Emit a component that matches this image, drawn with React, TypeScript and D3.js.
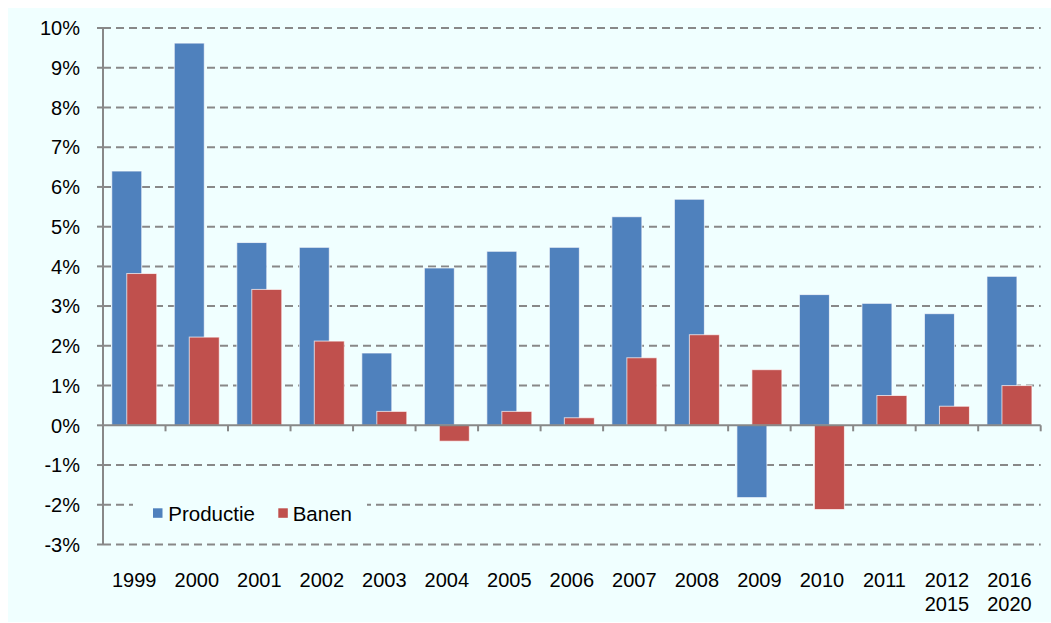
import React from 'react';
import * as d3 from 'd3';

const categories = ['1999', '2000', '2001', '2002', '2003', '2004', '2005', '2006', '2007', '2008', '2009', '2010', '2011', '2012\n2015', '2016\n2020'];
const productie = [6.40, 9.62, 4.60, 4.48, 1.82, 3.96, 4.38, 4.48, 5.25, 5.69, -1.82, 3.29, 3.07, 2.81, 3.75];
const banen = [3.82, 2.22, 3.42, 2.12, 0.35, -0.40, 0.35, 0.19, 1.70, 2.28, 1.40, -2.12, 0.75, 0.48, 1.00];
const yTicks = [-3, -2, -1, 0, 1, 2, 3, 4, 5, 6, 7, 8, 9, 10];

const W = 1051;
const H = 623;
const left = 103;
const right = 1040.7;
const top = 28;
const bottom = 544.5;
const font = 'Liberation Sans, Arial, sans-serif';
const blue = '#4F81BD';
const red = '#C0504D';
const grid = '#888888';
const bg = '#F0FFFF';

const App = () => {
  const x = d3.scaleBand().domain(categories).range([left, right]).padding(0);
  const y = d3.scaleLinear().domain([-3, 10]).range([bottom, top]);
  const barW = 30;

  const bar = (v: number, xs: number, color: string, key: string) => (
    <rect
      key={key}
      x={xs}
      y={Math.min(y(v), y(0))}
      width={barW}
      height={Math.abs(y(v) - y(0))}
      fill={color}
      stroke="#ffffff"
      strokeOpacity={0.7}
      strokeWidth={1}
    />
  );

  return (
    <svg width={W} height={H} style={{ position: 'fixed', left: 0, top: 0 }} fontFamily={font}>
      <rect x={8} y={8} width={W - 8} height={614} fill={bg} />

      {/* gridlines */}
      {yTicks.filter(t => t !== 0).map(t => (
        <line key={'g' + t} x1={left} x2={right} y1={y(t)} y2={y(t)} stroke={grid} strokeWidth={2} strokeDasharray="8,5" />
      ))}

      {/* y axis ticks + labels */}
      {yTicks.map(t => (
        <g key={'yt' + t}>
          <line x1={left - 6} x2={left} y1={y(t)} y2={y(t)} stroke={grid} strokeWidth={2} />
          <text x={80} y={y(t)} dy="0.36em" textAnchor="end" fontSize={20} fill="#000">{t + '%'}</text>
        </g>
      ))}

      {/* bars */}
      {categories.map((c, i) => {
        const cx = (x(c) as number) + x.bandwidth() / 2;
        return (
          <g key={'b' + c}>
            {bar(productie[i], cx - 22.5, blue, 'p' + i)}
            {bar(banen[i], cx - 7.5, red, 'r' + i)}
          </g>
        );
      })}

      {/* axes */}
      <line x1={left} x2={left} y1={top} y2={bottom} stroke={grid} strokeWidth={2} />
      <line x1={left} x2={right} y1={y(0)} y2={y(0)} stroke={grid} strokeWidth={2} />
      {categories.map(c => (
        <line key={'xt' + c} x1={x(c) as number} x2={x(c) as number} y1={y(0)} y2={y(0) + 6} stroke={grid} strokeWidth={2} />
      ))}
      <line x1={right} x2={right} y1={y(0)} y2={y(0) + 6} stroke={grid} strokeWidth={2} />

      {/* x labels */}
      {categories.map(c => (
        <text key={'xl' + c} x={(x(c) as number) + x.bandwidth() / 2} y={587} textAnchor="middle" fontSize={20} fill="#000">
          {c.split('\n').map((line, j) => (
            <tspan key={j} x={(x(c) as number) + x.bandwidth() / 2} dy={j === 0 ? 0 : 23.5}>{line}</tspan>
          ))}
        </text>
      ))}

      {/* legend */}
      <rect x={133} y={495} width={234} height={36} fill={bg} />
      <rect x={153} y={508.3} width={9.5} height={9.5} fill={blue} />
      <text x={168.3} y={520.7} fontSize={20.5} fill="#000">Productie</text>
      <rect x={278.3} y={508.3} width={9.5} height={9.5} fill={red} />
      <text x={292.7} y={520.7} fontSize={20.5} fill="#000">Banen</text>
    </svg>
  );
};

export default App;
